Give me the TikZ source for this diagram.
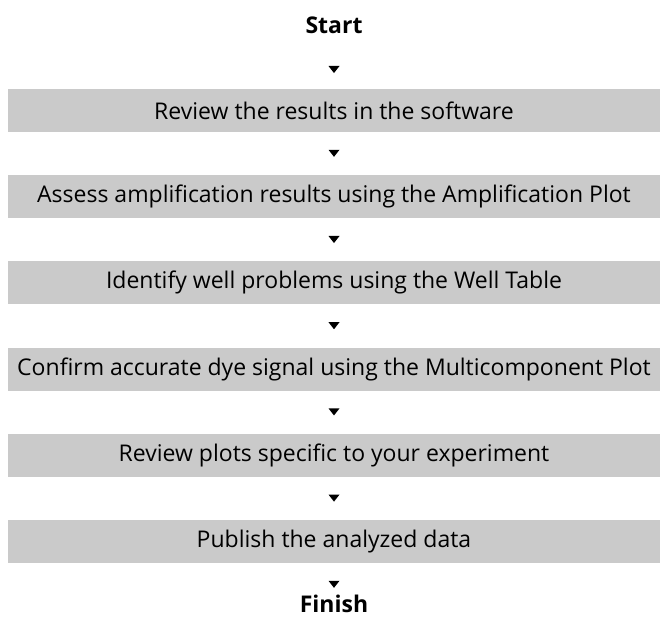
\documentclass[tikz,border=0pt]{standalone}
\usepackage{fontspec}
\setmainfont{Open Sans}
\usetikzlibrary{positioning,shapes.geometric}
\definecolor{boxgray}{HTML}{CACACA}

\begin{document}
\begin{tikzpicture}[
  node distance=21.2pt,
  stepbox/.style={rectangle,fill=boxgray,minimum width=326pt,minimum height=21.5pt,
                  inner sep=0pt,align=center,font=\fontsize{11.5}{14}\selectfont},
  term/.style={inner sep=0pt,font=\fontsize{11.5}{14}\selectfont\bfseries},
  tip/.style={isosceles triangle,isosceles triangle apex angle=76,shape border rotate=-90,
              fill=black,inner sep=0pt,minimum width=5.5pt,minimum height=3.5pt}
]
\useasboundingbox (0,0) rectangle (330pt,-313pt);
\node[stepbox] (b1) at (167pt,-55.25pt) {Review the results in the software};
\node[stepbox,below=of b1] (b2) {Assess amplification results using the Amplification Plot};
\node[stepbox,below=of b2] (b3) {Identify well problems using the Well Table};
\node[stepbox,below=of b3] (b4) {Confirm accurate dye signal using the Multicomponent Plot};
\node[stepbox,below=of b4] (b5) {Review plots specific to your experiment};
\node[stepbox,below=of b5] (b6) {Publish the analyzed data};
\node[term,above=27pt of b1] (start) {Start};
\node[term,below=15.5pt of b6] (finish) {Finish};
% arrow heads between the steps
\node[tip,below=15.5pt of start,anchor=north] (t0) {};
\node[tip,below=8.5pt of b1,anchor=north] (t1) {};
\node[tip,below=8.5pt of b2,anchor=north] (t2) {};
\node[tip,below=8.5pt of b3,anchor=north] (t3) {};
\node[tip,below=8.5pt of b4,anchor=north] (t4) {};
\node[tip,below=8.5pt of b5,anchor=north] (t5) {};
\node[tip,below=8.5pt of b6,anchor=north] (t6) {};
\end{tikzpicture}
\end{document}
